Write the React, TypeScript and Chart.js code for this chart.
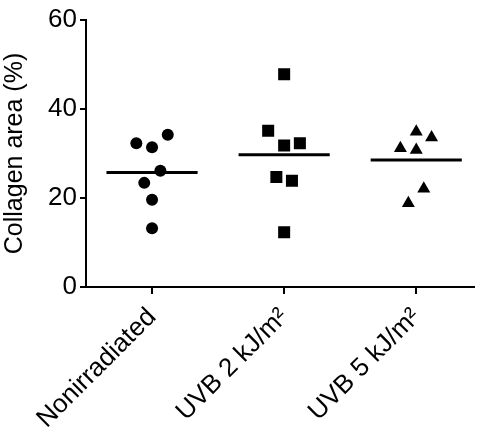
import React, { useEffect, useRef } from "react";
import { Chart, registerables } from "chart.js";

Chart.register(...registerables);

const categories = ["Nonirradiated", "UVB 2 kJ/m²", "UVB 5 kJ/m²"];
const nonirradiated = [32.3, 31.4, 34.2, 26.1, 23.4, 19.6, 13.2];
const uvb2 = [47.8, 35.1, 31.8, 32.3, 24.7, 23.9, 12.3];
const uvb5 = [34.9, 33.6, 31.2, 30.8, 22.1, 18.8];
// horizontal scatter spread of each point within its column (category units)
const jitterNonirradiated = [-0.119, 0, 0.119, 0.063, -0.059, 0, 0];
const jitterUvb2 = [0, -0.121, 0, 0.119, -0.059, 0.059, 0];
const jitterUvb5 = [0, 0.116, -0.12, 0, 0.057, -0.06];
const yTicks = [0, 20, 40, 60];

const groups = [nonirradiated, uvb2, uvb5];
const jitters = [jitterNonirradiated, jitterUvb2, jitterUvb5];
const styles = ["circle", "rect", "triangle"];
const radii = [6, 8.5, 7.5];
const mean = (a: number[]) => a.reduce((s, v) => s + v, 0) / a.length;

export default function App() {
  const ref = useRef<HTMLCanvasElement | null>(null);
  useEffect(() => {
    if (!ref.current) return;
    const family = "'Liberation Sans', Arial, sans-serif";
    const tickFont = { family, size: 26 };
    const titleFont = { family, size: 25 };
    const datasets: any[] = [];
    groups.forEach((g, i) => {
      datasets.push({
        type: "scatter",
        data: g.map((v, j) => ({ x: i + 1 + jitters[i][j], y: v })),
        pointStyle: styles[i],
        pointRadius: radii[i],
        pointBackgroundColor: "#000",
        pointBorderColor: "#000",
        pointBorderWidth: 0,
        showLine: false,
      });
      const m = mean(g);
      datasets.push({
        type: "scatter",
        data: [
          { x: i + 1 - 0.345, y: m },
          { x: i + 1 + 0.345, y: m },
        ],
        showLine: true,
        borderColor: "#000",
        borderWidth: 3,
        pointRadius: 0,
      });
    });
    const chart = new Chart(ref.current, {
      type: "scatter",
      data: { datasets },
      options: {
        animation: false,
        responsive: false,
        events: [],
        layout: { padding: { top: 20, right: 0, left: 0, bottom: 0 } },
        plugins: { legend: { display: false }, tooltip: { enabled: false } },
        scales: {
          x: {
            type: "linear",
            min: 0.5,
            max: 0.5 + 396 / 135,
            afterBuildTicks: (s: any) => {
              s.ticks = categories.map((_, i) => ({ value: i + 1 }));
            },
            afterFit: (s: any) => {
              s.height = 144;
            },
            ticks: {
              autoSkip: false,
              minRotation: 45,
              maxRotation: 45,
              color: "#000",
              font: tickFont,
              padding: 8,
              callback: (v: any) => categories[Math.round(Number(v)) - 1] ?? "",
            },
            grid: { drawOnChartArea: false, color: "#000", lineWidth: 2, tickLength: 7 },
            border: { color: "#000", width: 2 },
          },
          y: {
            min: 0,
            max: 60,
            afterBuildTicks: (s: any) => {
              s.ticks = yTicks.map((v) => ({ value: v }));
            },
            afterFit: (s: any) => {
              s.width = 86;
            },
            ticks: { color: "#000", font: tickFont, padding: 3 },
            grid: { drawOnChartArea: false, color: "#000", lineWidth: 2, tickLength: 6 },
            border: { color: "#000", width: 2 },
            title: { display: true, text: "Collagen area (%)", color: "#000", font: titleFont, padding: 0 },
          },
        },
      },
    });
    return () => chart.destroy();
  }, []);
  return (
    <div style={{ position: "fixed", left: 0, top: 0, width: 482, height: 431, background: "#fff" }}>
      <canvas ref={ref} width={482} height={431} style={{ width: 482, height: 431 }} />
    </div>
  );
}
